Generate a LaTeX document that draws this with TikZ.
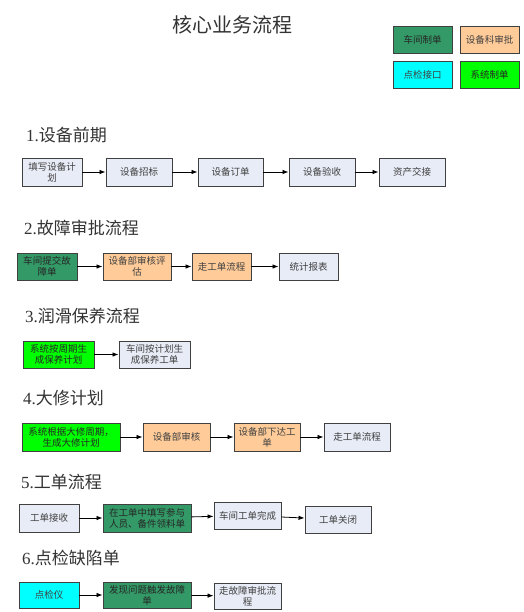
\documentclass[tikz,border=0pt]{standalone}
\usepackage{fontspec}
\setmainfont{Liberation Serif}
\newfontfamily\cjk{Noto Sans CJK SC}
\usetikzlibrary{arrows.meta}
\definecolor{dkgreen}{HTML}{339966}
\definecolor{peach}{HTML}{FFCC99}
\definecolor{lcyan}{HTML}{00FFFF}
\definecolor{lgreen}{HTML}{00FF00}
\definecolor{pale}{HTML}{E8ECF6}
\definecolor{edge}{HTML}{404040}
\tikzset{
  x=1pt, y=-1pt,
  box/.style={draw=edge, line width=0.9pt, align=center, inner sep=1pt,
    font=\cjk\fontsize{9.5}{11}\selectfont, text=black!75},
  pl/.style={box, fill=pale},
  dg/.style={box, fill=dkgreen, text=black!85},
  pe/.style={box, fill=peach},
  cy/.style={box, fill=lcyan},
  gr/.style={box, fill=lgreen, text=black!85},
  hd/.style={anchor=west, font=\fontsize{17}{19}\selectfont, text=black!80, inner sep=0pt},
  arr/.style={-{Latex[length=6pt,width=4.5pt]}, line width=0.8pt, black},
}
\newcommand\bx[6]{\node[#1, minimum width=#4pt, minimum height=#5pt] (#2) at (#3) {#6};}
\begin{document}
\begin{tikzpicture}
\useasboundingbox[fill=white] (0,0) rectangle (523,612);
% title
\node[font=\cjk\fontsize{20}{22}\selectfont, text=black!80] (title) at (232,25) {核心业务流程};
% legend
\bx{dg}{l1}{422.5,39.5}{59}{27}{车间制单}
\bx{pe}{l2}{489.5,39.5}{59}{27}{设备科审批}
\bx{cy}{l3}{422.5,74.5}{59}{27}{点检接口}
\bx{gr}{l4}{489.5,74.5}{59}{27}{系统制单}
% section 1
\node[hd] (h1) at (26,135) {1.{\cjk 设备前期}};
\bx{pl}{a1}{52,172}{60}{28}{填写设备计\\划}
\bx{pl}{a2}{139,172}{66}{28}{设备招标}
\bx{pl}{a3}{230.5,172}{65}{28}{设备订单}
\bx{pl}{a4}{322,172}{66}{28}{设备验收}
\bx{pl}{a5}{412,172}{66}{28}{资产交接}
\draw[arr] (a1) -- (a2);
\draw[arr] (a2) -- (a3);
\draw[arr] (a3) -- (a4);
\draw[arr] (a4) -- (a5);
% section 2
\node[hd] (h2) at (24,228) {2.{\cjk 故障审批流程}};
\bx{dg}{b1}{47,266.5}{60}{27}{车间提交故\\障单}
\bx{pe}{b2}{137,266.5}{68}{27}{设备部审核评\\估}
\bx{pe}{b3}{221.5,266.5}{59}{27}{走工单流程}
\bx{pl}{b4}{308.5,266.5}{59}{27}{统计报表}
\draw[arr] (b1) -- (b2);
\draw[arr] (b2) -- (b3);
\draw[arr] (b3) -- (b4);
% section 3
\node[hd] (h3) at (25,316) {3.{\cjk 润滑保养流程}};
\bx{gr}{c1}{58.5,354.5}{71}{27}{系统按周期生\\成保养计划}
\bx{pl}{c2}{154.5,354.5}{71}{27}{车间按计划生\\成保养工单}
\draw[arr] (c1) -- (c2);
% section 4
\node[hd] (h4) at (23,398) {4.{\cjk 大修计划}};
\bx{gr}{d1}{71,437}{98}{28}{系统根据大修周期，\\生成大修计划}
\bx{pe}{d2}{176.5,437}{67}{28}{设备部审核}
\bx{pe}{d3}{267,437}{66}{28}{设备部下达工\\单}
\bx{pl}{d4}{357,437}{66}{28}{走工单流程}
\draw[arr] (d1) -- (d2);
\draw[arr] (d2) -- (d3);
\draw[arr] (d3) -- (d4);
% section 5
\node[hd] (h5) at (21,482) {5.{\cjk 工单流程}};
\bx{pl}{e1}{49,518}{60}{28}{工单接收}
\bx{dg}{e2}{147,518}{88}{28}{在工单中填写参与\\人员、备件领料单}
\bx{pl}{e3}{247.5,515.5}{67}{27}{车间工单完成}
\bx{pl}{e4}{338,519.5}{66}{27}{工单关闭}
\draw[arr] (e1) -- (e2);
\draw[arr] (e2) -- (e3);
\draw[arr] (e3) -- (e4);
% section 6
\node[hd] (h6) at (22,558) {6.{\cjk 点检缺陷单}};
\bx{cy}{f1}{49,595}{60}{26}{点检仪}
\bx{dg}{f2}{147,595}{88}{26}{发现问题触发故障\\单}
\bx{pl}{f3}{247.5,596}{67}{26}{走故障审批流\\程}
\draw[arr] (f1) -- (f2);
\draw[arr] (f2) -- (f3);
\end{tikzpicture}
\end{document}
